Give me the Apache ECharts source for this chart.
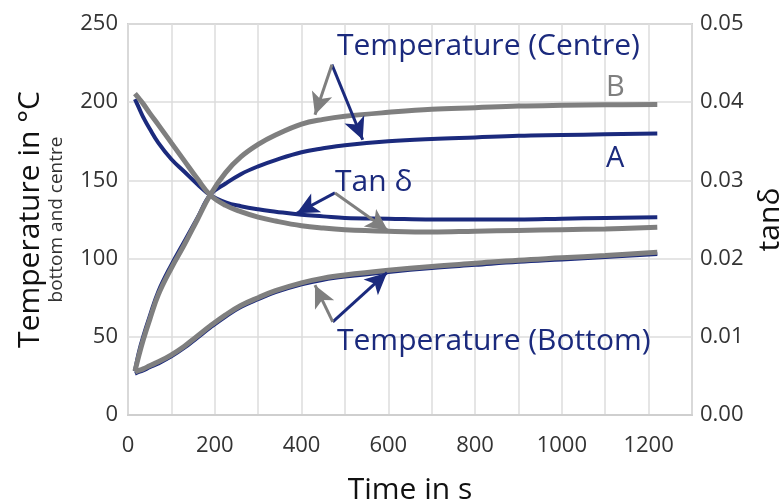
<!DOCTYPE html>
<html>
<head>
<meta charset="utf-8">
<script src="https://cdn.jsdelivr.net/npm/echarts@6/dist/echarts.min.js"></script>
<style>html,body{margin:0;padding:0;background:#fff}#c{width:783px;height:504px}</style>
</head>
<body>
<div id="c"></div>
<script>
// ---- data ----
var time = [16, 25, 35, 50, 70, 100, 130, 160, 190, 225, 260, 300, 340, 400, 450, 500, 600, 700, 800, 900, 1000, 1100, 1220];
var centreA = [28, 40, 50, 63, 79, 96, 111, 126, 141, 148, 154, 159, 163, 168, 170.5, 172.5, 175, 176.5, 177.5, 178.5, 179, 179.5, 180];
var centreB = [28, 38, 48, 61, 77, 94, 109, 125, 141, 155, 165, 173, 179, 186, 189, 191, 193.5, 195.5, 196.5, 197.5, 198, 198.3, 198.5];
var bottomA = [26.5, 27.5, 28.5, 30.5, 33, 37.5, 43, 49.5, 56, 63, 69, 74, 78.5, 83.5, 86.5, 88.5, 91.5, 94, 96, 98, 99.5, 101, 103];
var bottomB = [27.5, 28.5, 29.5, 31.5, 34, 38.5, 44, 50.5, 57, 64, 70, 75, 79.5, 84.5, 87.5, 89.5, 92.5, 95, 97, 99, 100.5, 102, 104];
var tanA = [0.0404, 0.0393, 0.0381, 0.0366, 0.0348, 0.0327, 0.0311, 0.0295, 0.0281, 0.0272, 0.0267, 0.0263, 0.026, 0.0256, 0.0254, 0.0252, 0.0251, 0.025, 0.025, 0.025, 0.0251, 0.0252, 0.0253];
var tanB = [0.0411, 0.0405, 0.0398, 0.0386, 0.0371, 0.0348, 0.0325, 0.0302, 0.0281, 0.0268, 0.026, 0.0253, 0.0248, 0.0242, 0.0239, 0.0237, 0.0235, 0.0234, 0.0235, 0.0236, 0.0237, 0.0238, 0.024];
var xTicks = [0, 200, 400, 600, 800, 1000, 1200];

// arrows: [from, to] in data coordinates
var arrowCentreB = [[470, 224], [431, 192]];
var arrowCentreA = [[470, 224], [541, 176]];
var arrowBottomB = [[472, 59.5], [431, 83]];
var arrowBottomA = [[472, 59.5], [597, 91]];
var arrowTanA = [[477, 0.0284], [389, 0.0258]];
var arrowTanB = [[477, 0.0284], [599, 0.0236]];

var BLUE = '#1b2a7d', GRAY = '#7f7f7f';
function pairs(v){ return time.map(function(t,i){ return [t, v[i]]; }); }
function arrow(a, color){
  return { silent:true, symbol:['none','arrow'], symbolSize:[16,22], animation:false,
    lineStyle:{color:color, width:3, type:'solid'}, label:{show:false},
    emphasis:{disabled:true},
    data:[[{coord:a[0]},{coord:a[1]}]] };
}
var FONT = '"Open Sans", "Noto Sans", sans-serif';
var chart = echarts.init(document.getElementById('c'));
chart.setOption({
  animation:false,
  textStyle:{fontFamily:FONT},
  grid:{left:128, right:91, top:24, bottom:89, containLabel:false, outerBoundsMode:'none',
    show:true, borderColor:'#cfcfcf', borderWidth:2},
  xAxis:{type:'value', min:0, max:1300, interval:100,
    name:'Time in s', nameLocation:'middle', nameGap:60,
    nameTextStyle:{fontSize:30, color:'#111', fontFamily:FONT},
    axisLine:{show:true, lineStyle:{color:'#cfcfcf', width:2}}, axisTick:{show:false},
    axisLabel:{margin:20, fontSize:22, color:'#333', fontFamily:FONT,
      formatter:function(v){ return xTicks.indexOf(v) >= 0 ? String(v) : ''; }},
    splitLine:{show:true, lineStyle:{color:'#dcdcdc', width:1.5}}},
  yAxis:[
    {type:'value', min:0, max:250, interval:50, position:'left',
      name:'{a|Temperature in °C}\n{b|bottom and centre}', nameLocation:'middle', nameRotate:90, nameGap:60,
      nameTextStyle:{color:'#111', fontFamily:FONT, rich:{a:{fontSize:30, color:'#111', fontFamily:FONT, lineHeight:32}, b:{fontSize:19, color:'#333', fontFamily:FONT, lineHeight:22}}},
      axisLine:{show:false}, axisTick:{show:false},
      axisLabel:{margin:10, fontSize:22, color:'#333', fontFamily:FONT},
      splitLine:{show:true, lineStyle:{color:'#dcdcdc', width:1.5}}},
    {type:'value', min:0, max:0.05, interval:0.01, position:'right',
      name:'tanδ', nameLocation:'middle', nameRotate:90, nameGap:63,
      nameTextStyle:{fontSize:30, color:'#111', fontFamily:FONT},
      axisLine:{show:false}, axisTick:{show:false},
      axisLabel:{margin:8, fontSize:22, color:'#333', fontFamily:FONT, formatter:function(v){ return v.toFixed(2); }},
      splitLine:{show:false}}
  ],
  series:[
    {name:'Centre A', type:'line', data:pairs(centreA), showSymbol:false, smooth:0.4,
      lineStyle:{color:BLUE, width:4}, itemStyle:{color:BLUE}, z:2, markLine:arrow(arrowCentreA, BLUE)},
    {name:'Bottom A', type:'line', data:pairs(bottomA), showSymbol:false, smooth:0.4,
      lineStyle:{color:BLUE, width:4}, itemStyle:{color:BLUE}, z:2, markLine:arrow(arrowBottomA, BLUE)},
    {name:'tan A', type:'line', yAxisIndex:1, data:pairs(tanA), showSymbol:false, smooth:0.4,
      lineStyle:{color:BLUE, width:4}, itemStyle:{color:BLUE}, z:2, markLine:arrow(arrowTanA, BLUE)},
    {name:'Centre B', type:'line', data:pairs(centreB), showSymbol:false, smooth:0.4,
      lineStyle:{color:GRAY, width:5}, itemStyle:{color:GRAY}, z:3, markLine:arrow(arrowCentreB, GRAY)},
    {name:'Bottom B', type:'line', data:pairs(bottomB), showSymbol:false, smooth:0.4,
      lineStyle:{color:GRAY, width:5}, itemStyle:{color:GRAY}, z:3, markLine:arrow(arrowBottomB, GRAY)},
    {name:'tan B', type:'line', yAxisIndex:1, data:pairs(tanB), showSymbol:false, smooth:0.4,
      lineStyle:{color:GRAY, width:5}, itemStyle:{color:GRAY}, z:3, markLine:arrow(arrowTanB, GRAY)}
  ],
  graphic:[
    {type:'text', left:337, top:31, z:10, style:{text:'Temperature (Centre)', fontSize:30, fontFamily:FONT, fill:BLUE}},
    {type:'text', left:335, top:167, z:10, style:{text:'Tan δ', fontSize:30, fontFamily:FONT, fill:BLUE}},
    {type:'text', left:337, top:326, z:10, style:{text:'Temperature (Bottom)', fontSize:30, fontFamily:FONT, fill:BLUE}},
    {type:'text', left:606, top:144, z:10, style:{text:'A', fontSize:29, fontFamily:FONT, fill:BLUE}},
    {type:'text', left:606, top:73, z:10, style:{text:'B', fontSize:29, fontFamily:FONT, fill:GRAY}}
  ]
});
</script>
</body>
</html>
